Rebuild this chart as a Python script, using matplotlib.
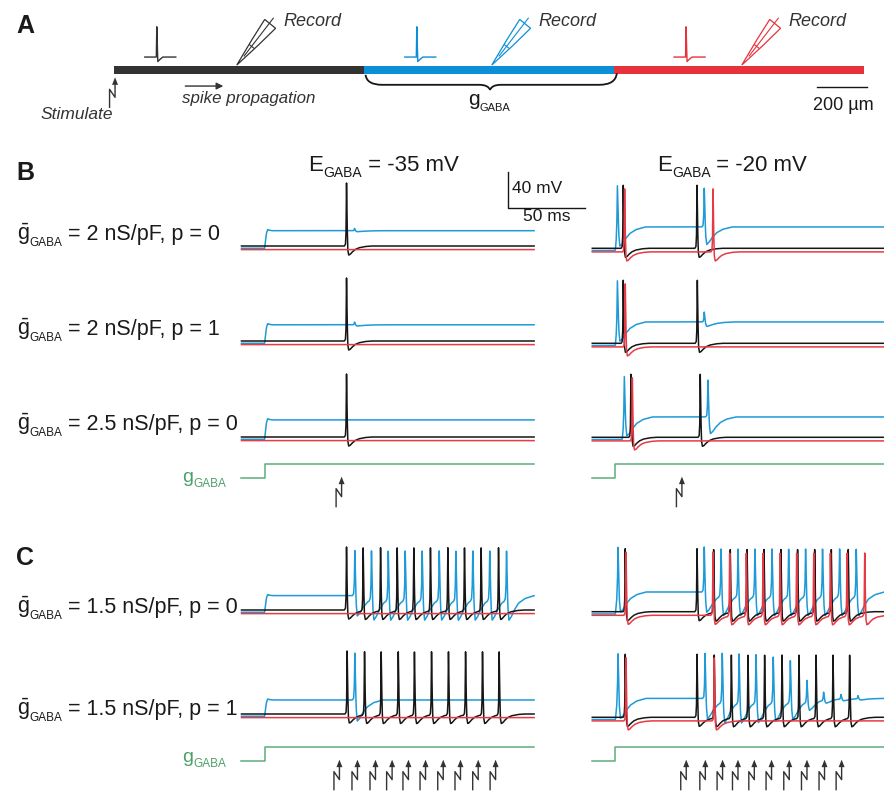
import numpy as np
import matplotlib
matplotlib.use('Agg')
import matplotlib.pyplot as plt
from matplotlib.patches import Rectangle, Polygon, PathPatch
from matplotlib.path import Path

plt.rcParams['font.family'] = ['Liberation Sans', 'DejaVu Sans']
plt.rcParams['mathtext.fontset'] = 'custom'
plt.rcParams['mathtext.rm'] = 'Liberation Sans'
plt.rcParams['mathtext.it'] = 'Liberation Sans:italic'
plt.rcParams['mathtext.bf'] = 'Liberation Sans:bold'

W, H = 884, 792

K = '#161616'
BLU = '#1d9ad8'
RED = '#e63a44'
GRN = '#5cad7c'
GRAY = '#333333'
TXT = '#1a1a1a'
BAR_COLORS = ['#333333', '#0d8fd8', '#e8323b']

#%% data ------------------------------------------------------------
T_END = 190.0       # ms in every trace panel
DT = 0.05
GABA_ON = 15.0      # ms, g_GABA switched on
REST_K, REST_R, REST_B = -65.0, -69.0, -67.5   # mV

# spike shapes (ms from peak, mV from local baseline)
AXON_T = [-1.4, -0.7, -0.35, 0.0, 0.35, 0.8, 1.4, 2.2, 3.5, 5.5, 8.0, 12.0, 16.0]
AXON_V = [0.0, 2.0, 14.0, 70.0, 28.0, -4.0, -10.0, -9.5, -7.0, -4.0, -2.0, -0.6, 0.0]
# spike in the GABA region, relative to its height
SHUNT_T = [-1.6, -0.8, -0.35, 0.0, 0.4, 0.9, 1.6, 3.0, 5.0, 8.0, 12.0, 18.0]
SHUNT_V = [0.0, 0.04, 0.3, 1.0, 0.4, -0.2, -0.45, -0.4, -0.28, -0.15, -0.06, 0.0]
# depolarisation of the GABA region when g_GABA turns on
STEP_T = [0.0, 0.6, 1.2, 2.0, 3.2, 5.0]
STEP_V = [0.0, 0.4, 0.85, 1.06, 1.02, 1.0]

G_T = [0.0, GABA_ON, GABA_ON, T_END]
G_V = [0.0, 0.0, 1.0, 1.0]

# panel B  (rows: 2 nS/pF p=0, 2 nS/pF p=1, 2.5 nS/pF p=0)
B_LABELS = [('2', '0'), ('2', '1'), ('2.5', '0')]
B35_PLAT = [-48.0, -47.0, -46.0]
B35_ON = [GABA_ON, GABA_ON, GABA_ON]
B35_K = [[68.2], [68.2], [68.2]]
B35_B = [[73.4], [73.4], []]
B35_B_AMP = [[2.5], [3.0], []]
B35_R = [[], [], []]
B35_STIM = [65.0]

B20_PLAT = [-41.3, -41.3, -42.4]
B20_ON = [GABA_ON, GABA_ON, 19.5]
B20_K = [[20.1, 68.0], [20.1, 68.2], [25.1, 70.1]]
B20_B = [[16.3, 72.7], [16.3, 72.7], [20.8, 75.1]]
B20_B_AMP = [[49, 43], [49, 11], [48, 41]]
B20_R = [[21.0, 78.4], [21.4], [26.0]]
B20_STIM = [58.2]

# panel C  (rows: 1.5 nS/pF p=0, 1.5 nS/pF p=1)
C_LABELS = [('1.5', '0'), ('1.5', '1')]
C35_PLAT = [-49.0, -49.4]
C35_ON = [GABA_ON, GABA_ON]
C35_K = [[68.2, 79.0, 90.3, 101.1, 111.9, 122.7, 134.0, 144.8, 155.6, 166.9],
         [68.6, 79.9, 90.7, 101.8, 112.3, 123.4, 134.4, 145.5, 156.5, 167.3]]
C35_B = [[73.6, 84.4, 95.3, 106.3, 117.3, 128.4, 139.2, 150.2, 161.2, 172.1], [73.6]]
C35_B_AMP = [[50, 54, 54, 54, 54, 54, 54, 54, 54, 54], [52]]
C35_R = [[], []]
C35_STIM = [63.6, 75.3, 87.0, 97.8, 108.4, 119.5, 131.0, 142.2, 153.7, 165.0]

C20_PLAT = [-43.1, -44.0]
C20_ON = [GABA_ON, GABA_ON]
C20_K = [[21.4, 68.0, 78.8, 89.6, 100.5, 111.5, 122.5, 133.3, 144.4, 155.2, 166.2],
         [21.4, 68.0, 79.2, 90.3, 101.1, 111.9, 123.2, 134.2, 145.3, 156.3, 167.1]]
C20_B = [[16.7, 72.7, 83.6, 94.6, 105.6, 116.7, 127.5, 138.5, 149.5, 160.6, 171.4],
         [16.7, 73.2, 84.4, 95.3, 106.3, 117.5, 128.6, 139.4, 150.2, 161.5, 172.5]]
C20_B_AMP = [[50, 50, 52, 52, 52, 52, 52, 52, 52, 52, 52],
             [50, 50, 54, 54, 53, 50, 46, 24, 9, 5, 3.5]]
C20_R = [[21.9, 78.4, 89.2, 100.0, 110.9, 121.9, 132.7, 143.8, 154.6, 165.4, 176.9],
         [21.9, 79.2]]
C20_STIM = [61.0, 73.4, 84.6, 94.6, 105.2, 116.4, 127.9, 139.4, 150.8, 161.9]

SCALE_MS, SCALE_MV = 50, 40

# panel A, lengths in um
SEG_UM = [1000, 1000, 1000]
RECORD_UM = [490, 1510, 2510]
ICON_UM = [170, 1210, 2287]
SCALE_UM = 200
ICON_X = [-48, -2, 0, 4, 12, 24, 76]
ICON_Y = [0, 0, 121, -18, -10, 0, 0]

#%% layout ------------------------------------------------------------
PX_MS = 1.54        # 50 ms = 77 px
PX_MV = 0.9         # 40 mV = 36 px
G_PX = 13.5         # height of the g_GABA step
V_LIM = (-95.0, 15.0)
COL_X = [241.5, 592.3]
B_ROW_Y = [[246.0, 341.0, 437.0], [248.3, 343.3, 437.3]]
C_ROW_Y = [[610.0, 714.0], [611.7, 717.3]]
G_ROW_Y = [478.0, 761.0]
UM_PX = 4.0
A_X0, A_Y0, A_H = 114.3, 69.8, 130

fig = plt.figure(figsize=(W / 100, H / 100), dpi=100)


def px_axes(x, y, w, h):
    return fig.add_axes([x / W, 1 - (y + h) / H, w / W, h / H])


ax_txt = px_axes(0, 0, W, H)
ax_txt.set_xlim(0, W)
ax_txt.set_ylim(H, 0)
ax_txt.axis('off')


def trace(t, rest, plat, on, spikes, amps=None):
    v = np.full_like(t, rest)
    if plat is not None:
        v += (plat - rest) * np.interp(t - on, STEP_T, STEP_V, left=0.0, right=1.0)
    for i, ts in enumerate(spikes):
        if amps is None:
            v += np.interp(t - ts, AXON_T, AXON_V, left=0.0, right=0.0)
        else:
            v += amps[i] * np.interp(t - ts, SHUNT_T, SHUNT_V, left=0.0, right=0.0)
    return v


def trace_panel(x0, y_rest, plat, on, k_sp, b_sp, b_amp, r_sp):
    top = y_rest - (V_LIM[1] - REST_K) * PX_MV
    ax = px_axes(x0, top, T_END * PX_MS, (V_LIM[1] - V_LIM[0]) * PX_MV)
    ax.set_xlim(0, T_END)
    ax.set_ylim(*V_LIM)
    ax.axis('off')
    t = np.arange(0, T_END + DT, DT)
    ax.plot(t, trace(t, REST_B, plat, on, b_sp, b_amp), color=BLU, lw=1.1, clip_on=False)
    ax.plot(t, trace(t, REST_K, None, on, k_sp), color=K, lw=1.1, clip_on=False)
    ax.plot(t, trace(t, REST_R, None, on, r_sp), color=RED, lw=1.1, clip_on=False)
    return ax


def stim_symbol(ax, x, tip, sx, sy):
    # sx, sy: data units per pixel
    xs = [x - 5.5 * sx, x - 5.5 * sx, x, x]
    ys = [tip - 30 * sy, tip - 12 * sy, tip - 20 * sy, tip - 6 * sy]
    ax.plot(xs, ys, color=GRAY, lw=1.0, clip_on=False)
    ax.add_patch(Polygon([(x, tip), (x - 3 * sx, tip - 7.5 * sy), (x + 3 * sx, tip - 7.5 * sy)],
                         closed=True, color=GRAY, lw=0, clip_on=False))


def g_panel(x0, y_low, stims):
    ax = px_axes(x0, y_low - 2.0 * G_PX, T_END * PX_MS, 4.4 * G_PX)
    ax.set_xlim(0, T_END)
    ax.set_ylim(-2.4, 2.0)
    ax.axis('off')
    ax.plot(G_T, G_V, color=GRN, lw=1.1, clip_on=False)
    for s in stims:
        stim_symbol(ax, s, 0.1, 1 / PX_MS, 1 / G_PX)


def sub_text(x, y, main, sub, rest, size, sub_size, drop, color=TXT):
    t1 = ax_txt.text(x, y, main, fontsize=size, color=color, va='baseline', ha='left')
    t2 = ax_txt.annotate(sub, xy=(1, y + drop), xycoords=(t1, 'data'), fontsize=sub_size,
                         color=color, va='baseline', ha='left')
    if rest:
        ax_txt.annotate(rest, xy=(1, y), xycoords=(t2, 'data'), fontsize=size,
                        color=color, va='baseline', ha='left')


#%% panel A -----------------------------------------------------------
ax_a = px_axes(0, 0, W, A_H)
ax_a.set_xlim(-A_X0 * UM_PX, (W - A_X0) * UM_PX)
ax_a.set_ylim((A_Y0 - A_H) * UM_PX, A_Y0 * UM_PX)
ax_a.axis('off')

x = 0
for seg, c in zip(SEG_UM, BAR_COLORS):
    ax_a.add_patch(Rectangle((x, -16.5), seg, 33, color=c, lw=0))
    x += seg

for xi, c in zip(ICON_UM, BAR_COLORS):
    ax_a.plot(np.array(ICON_X) + xi, np.array(ICON_Y) + 51, color=c, lw=1.0)

ang = np.deg2rad(51)
d = np.array([np.cos(ang), np.sin(ang)])
n = np.array([-np.sin(ang), np.cos(ang)])
L, Wp = 212, 56
for xr, c in zip(RECORD_UM, BAR_COLORS):
    tip = np.array([xr, 19.0])
    P = lambda u, v: tip + u * L * d + v * Wp * n
    outline = [P(0, 0), P(0.55, 0.3), P(1.0, 0.5), P(1.0, -0.5), P(0.55, -0.3)]
    ax_a.add_patch(Polygon(outline, closed=True, fill=False, ec=c, lw=0.9))
    wire = np.array([P(0.22, 0), P(1.12, 0.08)])
    ax_a.plot(wire[:, 0], wire[:, 1], color=c, lw=0.8)
    bar = np.array([P(0.45, -0.2), P(0.45, 0.2)])
    ax_a.plot(bar[:, 0], bar[:, 1], color=c, lw=0.8)
    ax_txt.text(xr / UM_PX + A_X0 + 47, 26, 'Record', fontsize=13,
                style='italic', color=GRAY, va='baseline', ha='left')

# brace under the GABA region
verts = [(1005, -20), (1010, -60), (1070, -60), (1460, -60), (1495, -60), (1503, -80),
         (1511, -60), (1546, -60), (1940, -60), (2005, -60), (2010, -14)]
codes = [Path.MOVETO, Path.CURVE3, Path.CURVE3, Path.LINETO, Path.CURVE3, Path.CURVE3,
         Path.CURVE3, Path.CURVE3, Path.LINETO, Path.CURVE3, Path.CURVE3]
ax_a.add_patch(PathPatch(Path(verts, codes), fill=False, ec=K, lw=1.3))

# scale bar 200 um
ax_a.plot([sum(SEG_UM) + 10 - SCALE_UM, sum(SEG_UM) + 10], [-70, -70], color=K, lw=1.0)
ax_txt.text(843, 110, '200 \u00b5m', fontsize=13, color=TXT, ha='center', va='baseline')

# stimulation and propagation arrows
stim_symbol(ax_a, 3, -30, UM_PX, UM_PX)
ax_a.annotate('', xy=(436, -65), xytext=(284, -65),
              arrowprops=dict(arrowstyle='-|>', lw=1.0, color=GRAY, mutation_scale=10,
                              shrinkA=0, shrinkB=0))
ax_txt.text(113.3, 119, 'Stimulate', fontsize=12.5, style='italic', color=GRAY,
            ha='right', va='baseline')
ax_txt.text(181.7, 103.3, 'spike propagation', fontsize=12.2, style='italic', color=GRAY,
            ha='left', va='baseline')
sub_text(468, 105, 'g', 'GABA', '', 15, 8, 6)

#%% panels B and C ----------------------------------------------------
ax_s = None
for col, (plat, on, ks, bs, ba, rs) in enumerate(
        [(B35_PLAT, B35_ON, B35_K, B35_B, B35_B_AMP, B35_R),
         (B20_PLAT, B20_ON, B20_K, B20_B, B20_B_AMP, B20_R)]):
    for row in range(3):
        ax = trace_panel(COL_X[col], B_ROW_Y[col][row], plat[row], on[row], ks[row],
                         bs[row], ba[row], rs[row])
        if col == 0 and row == 0:
            ax_s = ax
    g_panel(COL_X[col], G_ROW_Y[0], [B35_STIM, B20_STIM][col])

for col, (plat, on, ks, bs, ba, rs) in enumerate(
        [(C35_PLAT, C35_ON, C35_K, C35_B, C35_B_AMP, C35_R),
         (C20_PLAT, C20_ON, C20_K, C20_B, C20_B_AMP, C20_R)]):
    for row in range(2):
        trace_panel(COL_X[col], C_ROW_Y[col][row], plat[row], on[row], ks[row],
                    bs[row], ba[row], rs[row])
    g_panel(COL_X[col], G_ROW_Y[1], [C35_STIM, C20_STIM][col])

# scale bar next to the first row
sx0, sy0 = 173.0, -22.8
ax_s.plot([sx0, sx0, sx0 + SCALE_MS], [sy0 + SCALE_MV, sy0, sy0], color=K, lw=1.0,
          clip_on=False)
ax_s.text(sx0 + 2.5, sy0 + 22, '%d mV' % SCALE_MV, fontsize=12.5, color=TXT,
          ha='left', va='center', clip_on=False)
ax_s.text(sx0 + SCALE_MS / 2, sy0 - 1.5, '%d ms' % SCALE_MS, fontsize=12.5, color=TXT,
          ha='center', va='top', clip_on=False)

#%% text --------------------------------------------------------------
for letter, yb in zip('ABC', [33.3, 180, 565]):
    ax_txt.text(16, yb, letter, fontsize=18, fontweight='bold',
                color=TXT, va='baseline')

sub_text(308.3, 170.7, 'E', 'GABA', ' = -35 mV', 16, 10, 6.5)
sub_text(657.0, 170.7, 'E', 'GABA', ' = -20 mV', 16, 10, 6.5)

for (g, p), yb in zip(B_LABELS + C_LABELS, [240, 335, 430, 613.3, 715]):
    sub_text(16.7, yb, r'$\bar{\mathrm{g}}$', 'GABA', ' = %s nS/pF, p = %s' % (g, p),
             15.5, 8.5, 6)

for yb in [481.6, 762]:
    sub_text(182, yb, 'g', 'GABA', '', 14, 8.5, 5, color='#4e9f6b')

fig.savefig('out.png', dpi=100, facecolor='white')
